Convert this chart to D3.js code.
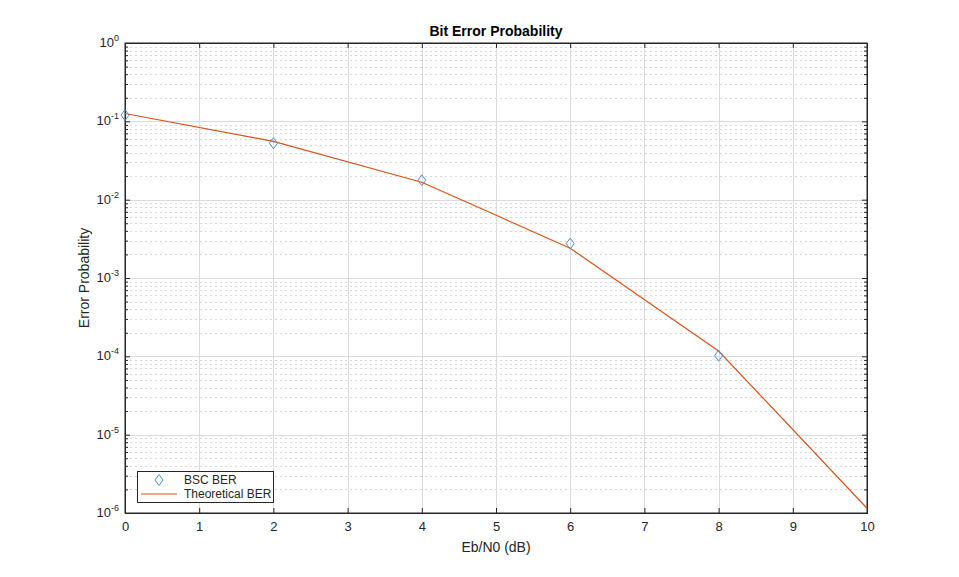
<!DOCTYPE html>
<html>
<head>
<meta charset="utf-8">
<script src="https://cdn.jsdelivr.net/npm/d3@7"></script>
<style>
  body { margin: 0; background: #fff; }
  text { font-family: "Liberation Sans", Arial, sans-serif; fill: #262626; }
</style>
</head>
<body>
<div id="chart"></div>
<script>
var width = 959,
    height = 577;

// data
var ebn0 = [0, 2, 4, 6, 8, 10];
var theoryBer = [0.126, 0.0555, 0.0167, 0.00240, 0.000117, 0.00000115];
var bscEbn0 = [0, 2, 4, 6, 8];
var bscBer = [0.120, 0.0525, 0.0177, 0.00275, 0.000102];
var xTicks = [0, 1, 2, 3, 4, 5, 6, 7, 8, 9, 10];
var yDecades = [-6, -5, -4, -3, -2, -1, 0];

var margin = {left: 125, right: 92, top: 43, bottom: 64};

var x = d3.scaleLinear()
    .domain([0, 10])
    .range([margin.left, width - margin.right]);

var y = d3.scaleLog()
    .domain([1e-6, 1])
    .range([height - margin.bottom, margin.top]);

var svg = d3.select("#chart").append("svg")
    .attr("width", width)
    .attr("height", height);

// minor values for the y grid
var minors = [];
yDecades.slice(0, -1).forEach(function(p) {
    for (var k = 2; k <= 9; k++) minors.push(k * Math.pow(10, p));
});

var grid = svg.append("g");
grid.selectAll(".minor")
    .data(minors)
    .enter().append("line")
    .attr("x1", x(0)).attr("x2", x(10))
    .attr("y1", function(d) { return Math.round(y(d)) + 0.5; })
    .attr("y2", function(d) { return Math.round(y(d)) + 0.5; })
    .attr("stroke", "#d8d8d8")
    .attr("stroke-dasharray", "2,3");
grid.selectAll(".vmajor")
    .data(xTicks)
    .enter().append("line")
    .attr("x1", function(d) { return Math.round(x(d)) + 0.5; })
    .attr("x2", function(d) { return Math.round(x(d)) + 0.5; })
    .attr("y1", y(1)).attr("y2", y(1e-6))
    .attr("stroke", "#dcdcdc");
grid.selectAll(".hmajor")
    .data(yDecades)
    .enter().append("line")
    .attr("x1", x(0)).attr("x2", x(10))
    .attr("y1", function(d) { return Math.round(y(Math.pow(10, d))) + 0.5; })
    .attr("y2", function(d) { return Math.round(y(Math.pow(10, d))) + 0.5; })
    .attr("stroke", "#dcdcdc");

// axes with inward ticks
var xAxis = svg.append("g")
    .attr("transform", "translate(0," + y(1e-6) + ")")
    .call(d3.axisBottom(x).tickValues(xTicks).tickSize(-5).tickPadding(9).tickFormat(d3.format("d")));
var xTop = svg.append("g")
    .attr("transform", "translate(0," + y(1) + ")")
    .call(d3.axisTop(x).tickValues(xTicks).tickSize(-5).tickFormat(""));

var decTicks = yDecades.map(function(p) { return Math.pow(10, p); });
var yAxis = svg.append("g")
    .attr("transform", "translate(" + x(0) + ",0)")
    .call(d3.axisLeft(y).tickValues(decTicks).tickSize(-5).tickPadding(8).tickFormat(""));
var yRight = svg.append("g")
    .attr("transform", "translate(" + x(10) + ",0)")
    .call(d3.axisRight(y).tickValues(decTicks).tickSize(-5).tickFormat(""));
svg.append("g")
    .attr("transform", "translate(" + x(0) + ",0)")
    .call(d3.axisLeft(y).tickValues(minors).tickSize(-3).tickFormat(""));
svg.append("g")
    .attr("transform", "translate(" + x(10) + ",0)")
    .call(d3.axisRight(y).tickValues(minors).tickSize(-3).tickFormat(""));

svg.selectAll(".domain").attr("stroke", "#262626");
svg.selectAll(".tick line").attr("stroke", "#262626");
xAxis.selectAll("text").attr("font-size", 13).style("fill", "#262626")
    .attr("font-family", "Liberation Sans, Arial, sans-serif");

// y tick labels as 10^p
yDecades.forEach(function(p) {
    var t = svg.append("text")
        .attr("x", x(0) - 6)
        .attr("y", y(Math.pow(10, p)) + 4)
        .attr("text-anchor", "end")
        .attr("font-size", 13);
    t.append("tspan").text("10");
    t.append("tspan").attr("dy", -6).attr("font-size", 9).text(String(p));
});

// box
svg.append("rect")
    .attr("x", x(0)).attr("y", y(1))
    .attr("width", x(10) - x(0)).attr("height", y(1e-6) - y(1))
    .attr("fill", "none").attr("stroke", "#262626");

// theoretical line
var line = d3.line()
    .x(function(d, i) { return x(ebn0[i]); })
    .y(function(d) { return y(d); });
svg.append("path")
    .datum(theoryBer)
    .attr("d", line)
    .attr("fill", "none")
    .attr("stroke", "#D95319")
    .attr("stroke-width", 1.2);

// BSC markers
var diamond = function(cx, cy) {
    return "M" + cx + "," + (cy - 5.5) + "L" + (cx + 4) + "," + cy + "L" + cx + "," + (cy + 5.5) + "L" + (cx - 4) + "," + cy + "Z";
};
svg.selectAll(".bsc")
    .data(bscBer)
    .enter().append("path")
    .attr("d", function(d, i) { return diamond(x(bscEbn0[i]), y(d)); })
    .attr("fill", "none")
    .attr("stroke", "#4a90cc")
    .attr("stroke-width", 1);

// title and labels
svg.append("text")
    .attr("x", (x(0) + x(10)) / 2)
    .attr("y", 36)
    .attr("text-anchor", "middle")
    .attr("font-size", 14)
    .attr("font-weight", "bold")
    .style("fill", "#000")
    .text("Bit Error Probability");
svg.append("text")
    .attr("x", (x(0) + x(10)) / 2)
    .attr("y", 552)
    .attr("text-anchor", "middle")
    .attr("font-size", 14)
    .text("Eb/N0 (dB)");
svg.append("text")
    .attr("transform", "translate(89," + (y(1) + y(1e-6)) / 2 + ") rotate(-90)")
    .attr("text-anchor", "middle")
    .attr("font-size", 14)
    .text("Error Probability");

// legend
var lg = svg.append("g").attr("transform", "translate(137,471)");
lg.append("rect")
    .attr("x", 0.5).attr("y", 0.5)
    .attr("width", 136).attr("height", 31)
    .attr("fill", "#fff").attr("stroke", "#262626");
lg.append("path")
    .attr("d", diamond(22, 9))
    .attr("fill", "none").attr("stroke", "#4a90cc");
lg.append("text").attr("x", 47).attr("y", 13).attr("font-size", 12).text("BSC BER");
lg.append("line")
    .attr("x1", 4).attr("x2", 40).attr("y1", 23).attr("y2", 23)
    .attr("stroke", "#D95319").attr("stroke-width", 1.2);
lg.append("text").attr("x", 47).attr("y", 27).attr("font-size", 12).text("Theoretical BER");
</script>
</body>
</html>
